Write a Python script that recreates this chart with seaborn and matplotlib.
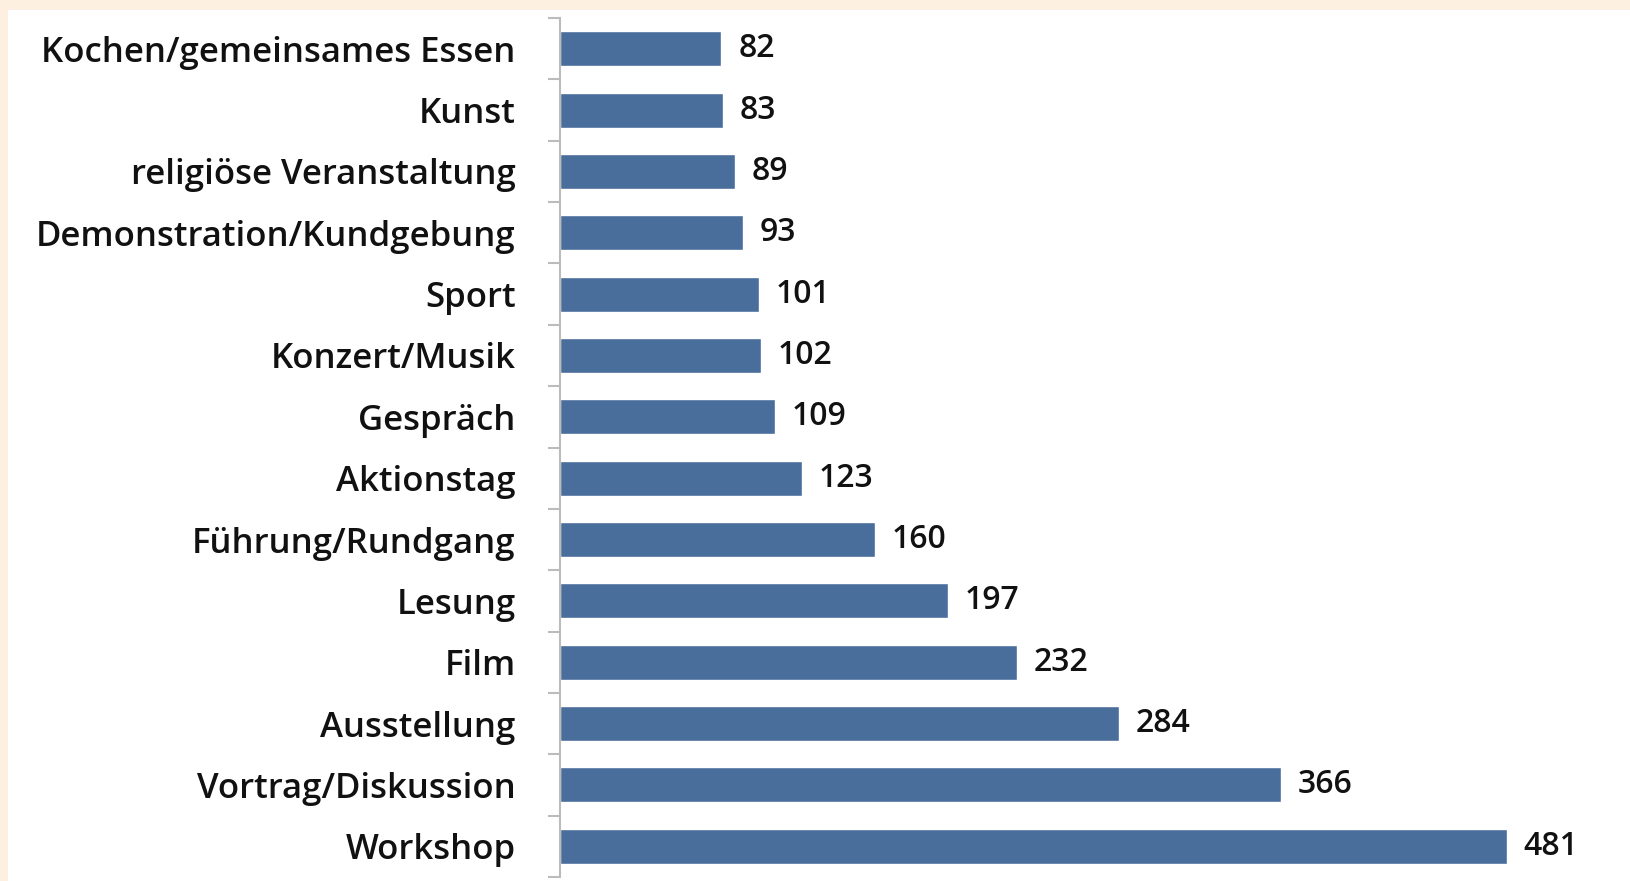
import matplotlib
matplotlib.use("Agg")
import matplotlib.pyplot as plt
from matplotlib import font_manager
from matplotlib.patches import Rectangle
from matplotlib.ticker import FixedLocator
import seaborn as sns
import pandas as pd

categories = ["Kochen/gemeinsames Essen", "Kunst", "religiöse Veranstaltung",
              "Demonstration/Kundgebung", "Sport", "Konzert/Musik", "Gespräch",
              "Aktionstag", "Führung/Rundgang", "Lesung", "Film", "Ausstellung",
              "Vortrag/Diskussion", "Workshop"]
values = [82, 83, 89, 93, 101, 102, 109, 123, 160, 197, 232, 284, 366, 481]

sns.set_style("white")
fonts = font_manager.fontManager.ttflist
names = {f.name for f in fonts}
fam = [f for f in ["Liberation Sans Narrow", "Open Sans", "DejaVu Sans"] if f in names]
plt.rcParams['font.family'] = fam
weights = {f.weight for f in fonts if f.name == fam[0]}
wt = 500 if (500 in weights or "medium" in weights) else (600 if (600 in weights or "semibold" in weights) else "normal")

W, H = 1631, 881
fig = plt.figure(figsize=(W / 100, H / 100), dpi=100)
fig.patch.set_facecolor("#FDF0E1")
fig.patches.append(Rectangle((8 / W, 0), 1, (H - 10) / H, transform=fig.transFigure,
                             facecolor="white", edgecolor="none", zorder=-5))

ax = fig.add_axes([560 / W, 4 / H, 1024 / W, 859 / H])
ax.set_zorder(2)
ax.set_facecolor("none")
df = pd.DataFrame({"cat": categories, "val": values})
sns.barplot(data=df, y="cat", x="val", orient="h", color="#4A6E9B", width=0.57,
            saturation=1, ax=ax)
ax.set_xlim(0, 520)
ax.set_ylim(len(categories) - 0.5, -0.5)
ax.set_xlabel("")
ax.set_ylabel("")
ax.set_xticks([])
for c in ax.containers:
    txts = ax.bar_label(c, labels=[str(v) for v in values], padding=12, fontsize=23,
                        color="#111111", fontweight=wt)

ax.yaxis.set_minor_locator(FixedLocator([i - 0.5 for i in range(len(categories) + 1)]))
ax.tick_params(axis="y", which="major", length=0, pad=32, labelsize=25, labelcolor="#111111")
for lbl in ax.get_yticklabels():
    lbl.set_fontweight(wt)
ax.tick_params(axis="y", which="minor", length=9, width=1.5, color="#BBBBBB", left=True)
for s in ["top", "right", "bottom"]:
    ax.spines[s].set_visible(False)
ax.spines["left"].set_color("#BBBBBB")
ax.spines["left"].set_linewidth(1.5)

fig.savefig("out.png", dpi=100, facecolor=fig.get_facecolor())
